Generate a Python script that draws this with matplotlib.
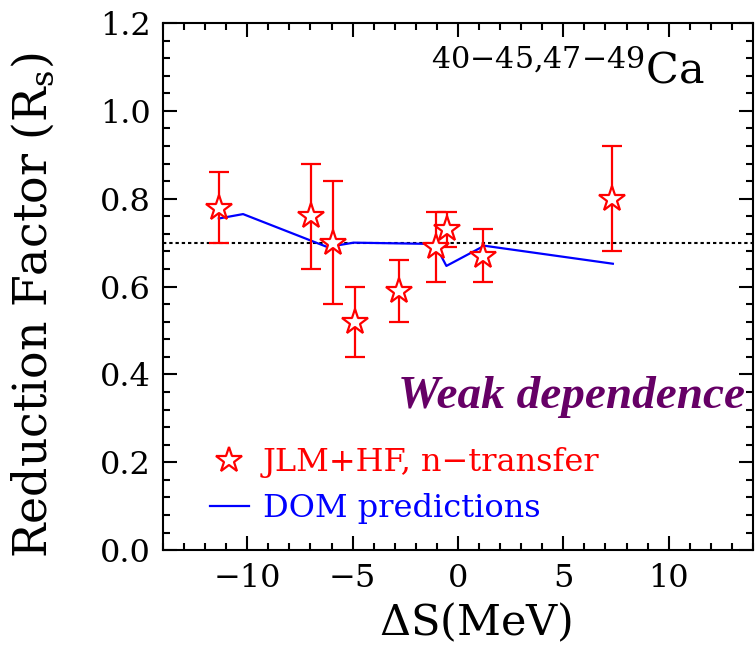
import numpy as np
import matplotlib.pyplot as plt
from matplotlib.lines import Line2D
from matplotlib.ticker import MultipleLocator

plt.rcParams['font.family'] = ['DejaVu Serif']
plt.rcParams['mathtext.fontset'] = 'dejavuserif'

# JLM+HF, n-transfer (Ca isotopes)
ds_exp = [-11.35, -6.97, -5.93, -4.9, -2.78, -1.05, -0.53, 1.19, 7.33]
rs_exp = [0.78, 0.76, 0.70, 0.52, 0.59, 0.69, 0.73, 0.67, 0.80]
rs_err = [0.08, 0.12, 0.14, 0.08, 0.07, 0.08, 0.04, 0.06, 0.12]

# DOM predictions
ds_dom = [-11.35, -10.2, -6.2, -4.95, -1.1, -0.55, 1.25, 7.35]
rs_dom = [0.755, 0.765, 0.69, 0.70, 0.697, 0.647, 0.693, 0.652]

red = '#ff0000'
blue = '#0000ff'
purple = '#660066'

fig = plt.figure(figsize=(7.56, 6.48), dpi=100)
ax = fig.add_axes([0.2156, 0.151, 0.7804, 0.8135])

ax.axhline(0.7, color='k', lw=1.5, dashes=(1.6, 1.4), zorder=1)
ax.plot(ds_dom, rs_dom, color=blue, lw=1.6, zorder=2)
ax.errorbar(ds_exp, rs_exp, yerr=rs_err, fmt='none', ecolor=red,
            elinewidth=1.6, capsize=7, capthick=1.6, zorder=3)
ax.plot(ds_exp, rs_exp, ls='none', marker='*', ms=19, mfc='white',
        mec=red, mew=1.6, zorder=4)

ax.set_xlim(-14, 14)
ax.set_ylim(0, 1.2)
ax.xaxis.set_major_locator(MultipleLocator(5))
ax.xaxis.set_minor_locator(MultipleLocator(1))
ax.yaxis.set_major_locator(MultipleLocator(0.2))
ax.yaxis.set_minor_locator(MultipleLocator(0.04))
ax.yaxis.set_major_formatter(plt.FuncFormatter(lambda v, p: f'{v:.1f}'))
ax.tick_params(which='both', direction='in', top=True, right=True, width=1.5,
               labelsize=23)
ax.tick_params(which='major', length=10, pad=9)
ax.tick_params(which='minor', length=5)
for s in ax.spines.values():
    s.set_linewidth(1.5)

ax.set_xlabel(r'$\Delta$S(MeV)', fontsize=31, labelpad=4)
ax.xaxis.set_label_coords(0.53, -0.097, transform=ax.transAxes)
ax.xaxis.label.set_va('top')
ax.set_ylabel(r'Reduction Factor (R$_\mathregular{s}$)', fontsize=33)
ax.yaxis.set_label_coords(-0.18, 0.465, transform=ax.transAxes)

ax.text(0.919, 0.886, r'$^{40{-}45{,}47{-}49}$Ca', transform=ax.transAxes,
        ha='right', va='baseline', fontsize=31)
ax.text(0.986, 0.27, 'Weak dependence', transform=ax.transAxes,
        ha='right', va='baseline', fontsize=34, color=purple,
        family='Liberation Serif', weight='bold', style='italic')

handles = [Line2D([], [], ls='none', marker='*', ms=19, mfc='white', mec=red, mew=1.6),
           Line2D([], [], color=blue, lw=1.6)]
ax.legend(handles, ['JLM+HF, n\u2212transfer', 'DOM predictions'],
          loc='upper left', bbox_to_anchor=(0.08, 0.195), frameon=False,
          fontsize=23, labelcolor=[red, blue], handlelength=1.2,
          handletextpad=0.45, labelspacing=0.45, borderpad=0, borderaxespad=0)

fig.savefig('out.png', dpi=100)
